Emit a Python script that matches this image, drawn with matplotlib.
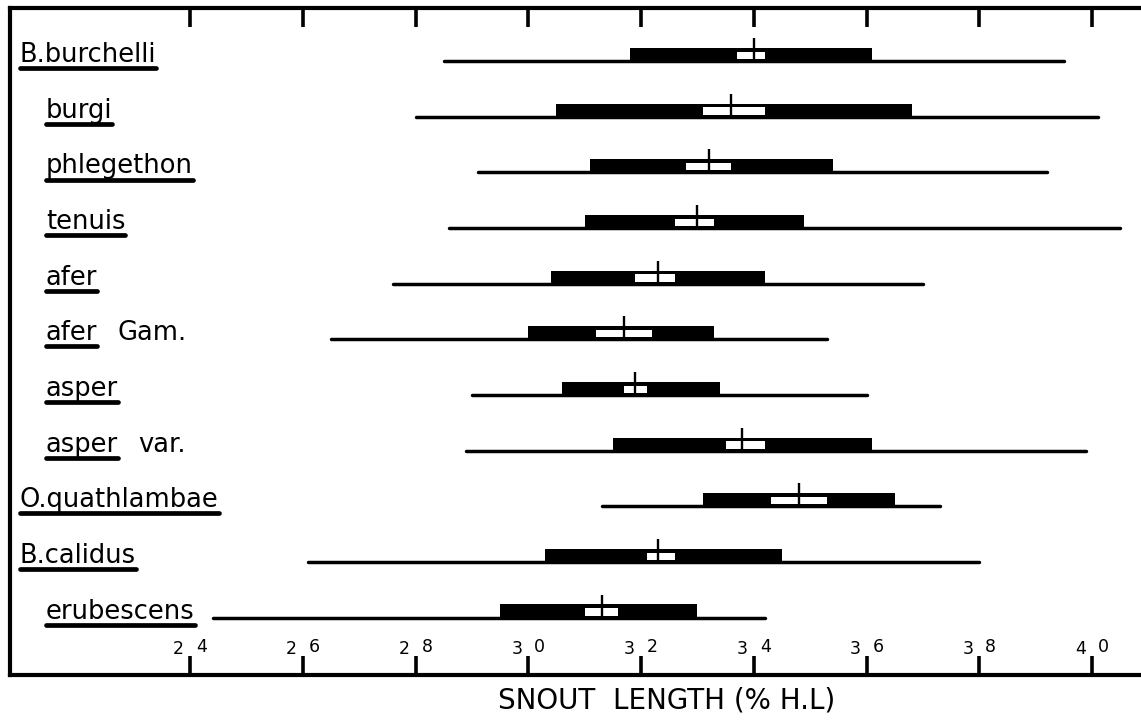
import matplotlib

matplotlib.use("Agg")
import matplotlib.pyplot as plt
import numpy as np
from matplotlib.transforms import blended_transform_factory, offset_copy


labels = ["B.burchelli", "burgi", "phlegethon", "tenuis", "afer", "afer Gam.",
          "asper", "asper var.", "O.quathlambae", "B.calidus", "erubescens"]
genus_level = [True, False, False, False, False, False, False, False, True, True, False]

# range, mean +/- SD (black), confidence interval of mean (white), mean
range_min = [2.85, 2.80, 2.91, 2.86, 2.76, 2.65, 2.90, 2.89, 3.13, 2.61, 2.44]
range_max = [3.95, 4.01, 3.92, 4.05, 3.70, 3.53, 3.60, 3.99, 3.73, 3.80, 3.42]
sd_low = [3.18, 3.05, 3.11, 3.10, 3.04, 3.00, 3.06, 3.15, 3.31, 3.03, 2.95]
sd_high = [3.61, 3.68, 3.54, 3.49, 3.42, 3.33, 3.34, 3.61, 3.65, 3.45, 3.30]
ci_low = [3.37, 3.31, 3.28, 3.26, 3.19, 3.12, 3.17, 3.35, 3.43, 3.21, 3.10]
ci_high = [3.42, 3.42, 3.36, 3.33, 3.26, 3.22, 3.21, 3.42, 3.53, 3.26, 3.16]
means = [3.40, 3.36, 3.32, 3.30, 3.23, 3.17, 3.19, 3.38, 3.48, 3.23, 3.13]

ticks = [2.4, 2.6, 2.8, 3.0, 3.2, 3.4, 3.6, 3.8, 4.0]

plt.rcParams["font.family"] = ["DejaVu Sans"]

fig = plt.figure(figsize=(11.41, 7.24), dpi=100)
ax = fig.add_axes([10 / 1141, 49 / 724, 1131 / 1141, 667 / 724])
ax.set_xlim(2.0807, 4.0869)
ax.set_ylim(11.033, -0.952)

rows = np.arange(len(labels))
lo = np.array(sd_low)
hi = np.array(sd_high)
clo = np.array(ci_low)
chi = np.array(ci_high)

ax.hlines(rows, range_min, range_max, colors="black", lw=2.5, capstyle="round", zorder=2)
ax.barh(rows - 0.234, hi - lo, left=lo, height=0.26, align="edge", color="black", zorder=3)
ax.barh(rows - 0.165, chi - clo, left=clo, height=0.13, align="edge", color="white", zorder=4)
ax.vlines(means, rows - 0.41, rows, colors="black", lw=1.7, zorder=5)

# frame: open on the right side
for side in ("left", "top", "bottom"):
    ax.spines[side].set_linewidth(3)
    ax.spines[side].set_color("black")
ax.spines["right"].set_visible(False)
ax.set_yticks([])
ax.set_xticks(ticks)
ax.tick_params(axis="x", direction="in", top=True, bottom=True, length=14, width=2.6,
               color="black", labelbottom=False, labeltop=False)

# tick labels: the tick itself stands in for the decimal point
xb = blended_transform_factory(ax.transData, ax.transAxes)
for t in ticks:
    whole, dec = f"{t:.1f}".split(".")
    ax.text(t, 0.039, whole, transform=offset_copy(xb, fig=fig, x=-6, y=0, units="dots"),
            ha="right", va="center", fontsize=12.5, color="black")
    ax.text(t, 0.042, dec, transform=offset_copy(xb, fig=fig, x=6, y=0, units="dots"),
            ha="left", va="center", fontsize=12.5, color="black")

# species labels, first word underlined
yb = blended_transform_factory(ax.transAxes, ax.transData)
renderer = fig.canvas.get_renderer()
inv = ax.transAxes.inverted()
for i, (name, genus) in enumerate(zip(labels, genus_level)):
    x0 = 0.0088 if genus else 0.0318
    parts = name.split(" ", 1)
    t = ax.text(x0, i + 0.02, parts[0], transform=yb, ha="left", va="baseline",
                fontsize=18.5, color="black")
    bb = t.get_window_extent(renderer)
    ux0 = inv.transform((bb.x0, 0))[0]
    ux1 = inv.transform((bb.x1, 0))[0]
    ax.plot([ux0, ux1], [i + 0.13, i + 0.13], transform=yb, color="black", lw=3.4,
            solid_capstyle="round", clip_on=False)
    if len(parts) > 1:
        ax.text(ux1 + 20 / 1131, i + 0.02, parts[1], transform=yb, ha="left",
                va="baseline", fontsize=18.5, color="black")

fig.text(0.5846, 0.033, "SNOUT  LENGTH (% H.L)", ha="center", va="center",
         fontsize=20, color="black")

fig.savefig("out.png", dpi=100)
